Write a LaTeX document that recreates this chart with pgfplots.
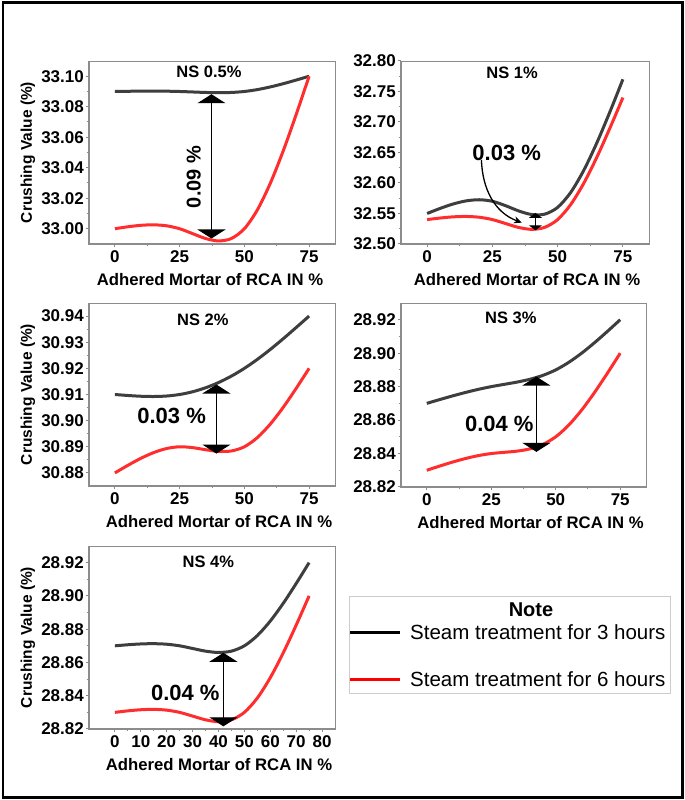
\documentclass[border=0pt]{standalone}
\usepackage{pgfplots}
\pgfplotsset{compat=1.18}
\usepackage{fontspec}
\setmainfont{Liberation Sans}
\usetikzlibrary{arrows.meta}
\definecolor{cblk}{RGB}{62,62,62}
\definecolor{cred}{RGB}{255,45,45}
\definecolor{cax}{RGB}{140,140,140}
\newcommand{\fsz}[1]{\fontsize{#1}{#1}\selectfont}
\pgfplotsset{
 panel/.style={
  scale only axis, anchor=south west,
  xmin=-10, xmax=85,
  axis line style={draw=cax, line width=0.8bp},
  tick style={draw=cax, line width=1bp},
  major tick length=3.5bp, minor tick length=2.5bp,
  tick align=outside, xtick pos=left, ytick pos=left,
  minor x tick num=1, minor y tick num=1,
  xtick={0,25,50,75},
  ticklabel style={font=\bfseries\fsz{17bp}},
  /pgf/number format/assume math mode=true,
  yticklabel={\pgfmathprintnumber[fixed,fixed zerofill,precision=2]{\tick}},
  xticklabel={\pgfmathprintnumber[fixed,precision=0]{\tick}},
  yticklabel style={inner sep=1.5bp},
  xticklabel style={inner sep=1bp, yshift=-2bp},
  xlabel={Adhered Mortar of RCA IN \%},
  xlabel style={font=\bfseries\fsz{16.7bp}, at={(axis description cs:0.5,0)}, anchor=base, yshift=-42bp},
  ylabel style={font=\bfseries\fsz{15.5bp}, at={(axis description cs:-0.248,0.5)}, anchor=center},
  clip=false,
  every axis plot/.append style={line width=3bp, smooth, no markers},
 },
}
\newcommand{\thickframe}{\draw[cax, line width=2bp] (rel axis cs:0,1) -- (rel axis cs:0,0) -- (rel axis cs:1,0);}
\tikzset{dblarr/.style={{Triangle[width=28bp,length=9bp]}-{Triangle[width=28bp,length=9bp]}, line width=1.2bp, black}}
\begin{document}
\begin{tikzpicture}[x=1bp,y=1bp]
\useasboundingbox (0,0) rectangle (685,800);
\fill[white] (0,0) rectangle (685,800);

% ---------- NS 0.5% ----------
\begin{axis}[panel, at={(89bp,556bp)}, width=246bp, height=183bp,
  ymin=32.99, ymax=33.11, ytick={33.00,33.02,33.04,33.06,33.08,33.10},
  ylabel={Crushing Value (\%)}, xlabel style={xshift=-2bp}]
\addplot[cblk] coordinates {(0,33.09) (5,33.09013) (10,33.09022) (15,33.09026) (20,33.09019) (25,33.09) (30,33.08968) (35,33.08936) (40,33.0892) (45,33.08936) (50,33.09) (55,33.09123) (60,33.09298) (65,33.0951) (70,33.09749) (75,33.10)};
\addplot[cred] coordinates {(0,33.00) (5,33.00128) (10,33.00224) (15,33.00256) (20,33.00192) (25,33.00) (30,32.9968) (35,32.9936) (40,32.992) (45,32.9936) (50,33.00) (55,33.01232) (60,33.02976) (65,33.05104) (70,33.07488) (75,33.10)};
\thickframe
\node[font=\bfseries\fsz{16.5bp}] at (rel axis cs:0.488,0.94) {NS 0.5\%};
\draw[dblarr] (axis cs:37.3,33.0882) -- (axis cs:37.3,32.9936);
\node[font=\bfseries\fsz{20bp}, rotate=90] at (axis cs:30.4,33.034) {0.09 \%};
\end{axis}

% ---------- NS 1% ----------
\begin{axis}[panel, at={(401bp,556bp)}, width=248bp, height=183bp,
  ymin=32.50, ymax=32.80, ytick={32.50,32.55,32.60,32.65,32.70,32.75,32.80}, xlabel style={xshift=2bp}]
\addplot[cblk] coordinates {(0,32.55) (5,32.55835) (10,32.56562) (15,32.5707) (20,32.57253) (25,32.57) (30,32.56288) (35,32.55432) (40,32.54832) (45,32.54888) (50,32.56) (55,32.58453) (60,32.6207) (65,32.66562) (70,32.71635) (75,32.77)};
\addplot[cred] coordinates {(0,32.54) (5,32.54256) (10,32.54448) (15,32.54512) (20,32.54384) (25,32.54) (30,32.5336) (35,32.5272) (40,32.524) (45,32.5272) (50,32.54) (55,32.56464) (60,32.59952) (65,32.64208) (70,32.68976) (75,32.74)};
\thickframe
\node[font=\bfseries\fsz{16.5bp}] at (rel axis cs:0.448,0.934) {NS 1\%};
\draw[{Triangle[width=13bp,length=5bp]}-{Triangle[width=13bp,length=5bp]}, line width=1bp] (axis cs:41.5,32.551) -- (axis cs:41.5,32.5225);
\draw[-{Stealth[length=8bp,width=7bp]}, line width=1.3bp] (axis cs:20.8,32.638) to[out=-88,in=160] (axis cs:36.3,32.535);
\node[font=\bfseries\fsz{22bp}] at (axis cs:30.5,32.65) {0.03 \%};
\end{axis}

% ---------- NS 2% ----------
\begin{axis}[panel, at={(89bp,314bp)}, width=246bp, height=183bp,
  ymin=30.875, ymax=30.945, ytick={30.88,30.89,30.90,30.91,30.92,30.93,30.94},
  ylabel={Crushing Value (\%)}, xlabel style={xshift=7bp}]
\addplot[cblk] coordinates {(0,30.91) (5,30.90962) (10,30.90933) (15,30.90923) (20,30.90942) (25,30.91) (30,30.91104) (35,30.91256) (40,30.91456) (45,30.91704) (50,30.92) (55,30.92342) (60,30.92723) (65,30.93133) (70,30.93562) (75,30.94)};
\addplot[cred] coordinates {(0,30.88) (5,30.8829) (10,30.88557) (15,30.88779) (20,30.88934) (25,30.89) (30,30.88968) (35,30.88888) (40,30.88824) (45,30.8884) (50,30.89) (55,30.8935) (60,30.89867) (65,30.90509) (70,30.91234) (75,30.92)};
\thickframe
\node[font=\bfseries\fsz{16.5bp}] at (rel axis cs:0.463,0.907) {NS 2\%};
\draw[dblarr] (axis cs:39.2,30.9138) -- (axis cs:39.2,30.8874);
\node[font=\bfseries\fsz{22bp}] at (axis cs:21.9,30.9017) {0.03 \%};
\end{axis}

% ---------- NS 3% ----------
\begin{axis}[panel, at={(401bp,313bp)}, width=245bp, height=184bp,
  ymin=28.82, ymax=28.93, ytick={28.82,28.84,28.86,28.88,28.90,28.92}, xlabel style={xshift=7bp}]
\addplot[cblk] coordinates {(0,28.87) (5,28.87226) (10,28.87445) (15,28.87651) (20,28.87838) (25,28.88) (30,28.88136) (35,28.88272) (40,28.8844) (45,28.88672) (50,28.89) (55,28.89446) (60,28.89995) (65,28.90621) (70,28.91298) (75,28.92)};
\addplot[cred] coordinates {(0,28.83) (5,28.83251) (10,28.8349) (15,28.83702) (20,28.83877) (25,28.84) (30,28.84072) (35,28.84144) (40,28.8428) (45,28.84544) (50,28.85) (55,28.85693) (60,28.8659) (65,28.87642) (70,28.88795) (75,28.90)};
\thickframe
\node[font=\bfseries\fsz{16.5bp}] at (rel axis cs:0.448,0.92) {NS 3\%};
\draw[dblarr] (axis cs:42.5,28.886) -- (axis cs:42.5,28.841);
\node[font=\bfseries\fsz{22bp}] at (axis cs:28.1,28.858) {0.04 \%};
\end{axis}

% ---------- NS 4% ----------
\begin{axis}[panel, at={(89bp,71bp)}, width=246bp, height=183bp,
  ymin=28.82, ymax=28.93, ytick={28.82,28.84,28.86,28.88,28.90,28.92},
  xtick={0,10,20,30,40,50,60,70,80},
  ylabel={Crushing Value (\%)}, xlabel style={xshift=7bp}]
\addplot[cblk] coordinates {(0,28.87) (5,28.87064) (10,28.87112) (15,28.87128) (20,28.87096) (25,28.87) (30,28.8684) (35,28.8668) (40,28.866) (45,28.8668) (50,28.87) (55,28.87616) (60,28.88488) (65,28.89552) (70,28.90744) (75,28.92)};
\addplot[cred] coordinates {(0,28.83) (5,28.8309) (10,28.83157) (15,28.83179) (20,28.83134) (25,28.83) (30,28.82776) (35,28.82552) (40,28.8244) (45,28.82552) (50,28.83) (55,28.83862) (60,28.85083) (65,28.86573) (70,28.88242) (75,28.90)};
\thickframe
\node[font=\bfseries\fsz{16.5bp}] at (rel axis cs:0.485,0.914) {NS 4\%};
\draw[dblarr] (axis cs:41.9,28.8658) -- (axis cs:41.9,28.8216);
\node[font=\bfseries\fsz{22bp}] at (axis cs:27.2,28.8417) {0.04 \%};
\end{axis}

% ---------- Note box ----------
\draw[gray!40, line width=0.8bp] (349,107) rectangle (670,204);
\node[font=\bfseries\fsz{20bp}] at (531,190) {Note};
\draw[black, line width=3bp] (350,167.7) -- (400,167.7);
\node[font=\fsz{20.5bp}, anchor=west, inner sep=0pt] at (410,167.7) {Steam treatment for 3 hours};
\draw[red, line width=3bp] (350,120.7) -- (400,120.7);
\node[font=\fsz{20.5bp}, anchor=west, inner sep=0pt] at (410,120.7) {Steam treatment for 6 hours};

% ---------- outer frame ----------
\draw[black, line width=2.5bp] (3,2.5) rectangle (682.5,797.5);
\end{tikzpicture}
\end{document}
